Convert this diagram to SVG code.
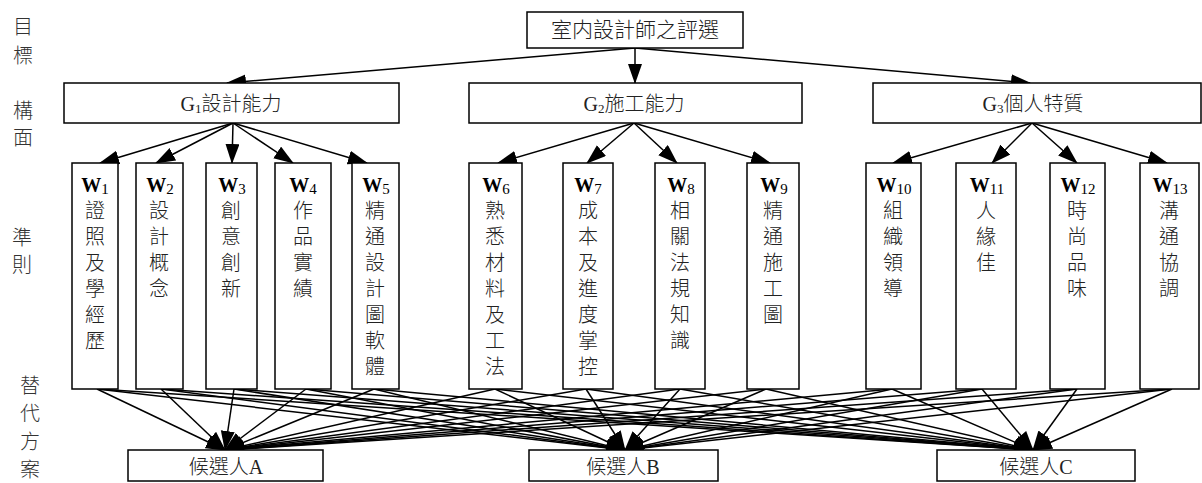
<svg xmlns="http://www.w3.org/2000/svg" width="1202" height="483" viewBox="0 0 1202 483">
<defs>
<style>
.box{fill:#fff;stroke:#000;stroke-width:1.5}
.t{font-family:"Liberation Serif","Noto Sans CJK TC",serif;font-size:20px;font-weight:300;fill:#222;text-anchor:middle}
.w{font-weight:bold;fill:#000}
.sub{font-size:13px;font-weight:normal}
.wsub{font-size:15px;font-weight:normal}
.lbl{font-family:"Noto Sans CJK TC",sans-serif;font-size:20px;font-weight:300;fill:#333;text-anchor:middle}
.c{stroke:#000;stroke-width:1.5;fill:none;marker-end:url(#ah)}
</style>
<marker id="ah" markerUnits="userSpaceOnUse" markerWidth="21" markerHeight="15" refX="19" refY="7" orient="auto">
<path d="M0,0 L20,7 L0,14 z" fill="#000"/>
</marker>
</defs>
<rect width="1202" height="483" fill="#fff"/>

<g id="side-labels">
<text class="lbl" x="23" y="34">目</text>
<text class="lbl" x="23" y="63">標</text>
<text class="lbl" x="23" y="118">構</text>
<text class="lbl" x="23" y="145">面</text>
<text class="lbl" x="22" y="245">準</text>
<text class="lbl" x="22" y="272">則</text>
<text class="lbl" x="30" y="393">替</text>
<text class="lbl" x="30" y="421">代</text>
<text class="lbl" x="30" y="449">方</text>
<text class="lbl" x="30" y="477">案</text>
</g>

<g id="connectors">
<line class="c" x1="635" y1="48" x2="227" y2="83"/>
<line class="c" x1="635" y1="48" x2="635" y2="83"/>
<line class="c" x1="635" y1="48" x2="1030" y2="83"/>

<line class="c" x1="233" y1="123" x2="100" y2="163"/>
<line class="c" x1="233" y1="123" x2="156" y2="163"/>
<line class="c" x1="233" y1="123" x2="232" y2="163"/>
<line class="c" x1="233" y1="123" x2="293" y2="163"/>
<line class="c" x1="233" y1="123" x2="367" y2="163"/>

<line class="c" x1="634" y1="123" x2="498" y2="163"/>
<line class="c" x1="634" y1="123" x2="587" y2="163"/>
<line class="c" x1="634" y1="123" x2="677" y2="163"/>
<line class="c" x1="634" y1="123" x2="770" y2="163"/>

<line class="c" x1="1032" y1="123" x2="893" y2="163"/>
<line class="c" x1="1032" y1="123" x2="992" y2="163"/>
<line class="c" x1="1032" y1="123" x2="1077" y2="163"/>
<line class="c" x1="1032" y1="123" x2="1167" y2="163"/>

<g id="to-A">
<line class="c" x1="97" y1="389" x2="225" y2="450"/>
<line class="c" x1="161" y1="389" x2="225" y2="450"/>
<line class="c" x1="234" y1="389" x2="225" y2="450"/>
<line class="c" x1="306" y1="389" x2="225" y2="450"/>
<line class="c" x1="374" y1="389" x2="225" y2="450"/>
<line class="c" x1="495" y1="389" x2="225" y2="450"/>
<line class="c" x1="586" y1="389" x2="225" y2="450"/>
<line class="c" x1="680" y1="389" x2="225" y2="450"/>
<line class="c" x1="766" y1="389" x2="225" y2="450"/>
<line class="c" x1="892" y1="389" x2="225" y2="450"/>
<line class="c" x1="982" y1="389" x2="225" y2="450"/>
<line class="c" x1="1077" y1="389" x2="225" y2="450"/>
<line class="c" x1="1172" y1="389" x2="225" y2="450"/>
</g>
<g id="to-B">
<line class="c" x1="97" y1="389" x2="625" y2="450"/>
<line class="c" x1="161" y1="389" x2="625" y2="450"/>
<line class="c" x1="234" y1="389" x2="625" y2="450"/>
<line class="c" x1="306" y1="389" x2="625" y2="450"/>
<line class="c" x1="374" y1="389" x2="625" y2="450"/>
<line class="c" x1="495" y1="389" x2="625" y2="450"/>
<line class="c" x1="586" y1="389" x2="625" y2="450"/>
<line class="c" x1="680" y1="389" x2="625" y2="450"/>
<line class="c" x1="766" y1="389" x2="625" y2="450"/>
<line class="c" x1="892" y1="389" x2="625" y2="450"/>
<line class="c" x1="982" y1="389" x2="625" y2="450"/>
<line class="c" x1="1077" y1="389" x2="625" y2="450"/>
<line class="c" x1="1172" y1="389" x2="625" y2="450"/>
</g>
<g id="to-C">
<line class="c" x1="97" y1="389" x2="1033" y2="450"/>
<line class="c" x1="161" y1="389" x2="1033" y2="450"/>
<line class="c" x1="234" y1="389" x2="1033" y2="450"/>
<line class="c" x1="306" y1="389" x2="1033" y2="450"/>
<line class="c" x1="374" y1="389" x2="1033" y2="450"/>
<line class="c" x1="495" y1="389" x2="1033" y2="450"/>
<line class="c" x1="586" y1="389" x2="1033" y2="450"/>
<line class="c" x1="680" y1="389" x2="1033" y2="450"/>
<line class="c" x1="766" y1="389" x2="1033" y2="450"/>
<line class="c" x1="892" y1="389" x2="1033" y2="450"/>
<line class="c" x1="982" y1="389" x2="1033" y2="450"/>
<line class="c" x1="1077" y1="389" x2="1033" y2="450"/>
<line class="c" x1="1172" y1="389" x2="1033" y2="450"/>
</g>
</g>

<g id="goal">
<rect class="box" x="527" y="12" width="216" height="36"/>
<text class="t" x="635" y="37" style="font-size:21px">室内設計師之評選</text>
</g>

<g id="G1">
<rect class="box" x="64" y="83" width="335" height="40"/>
<text class="t" x="231" y="111">G<tspan class="sub" dy="2">1</tspan><tspan dy="-2">設計能力</tspan></text>
</g>
<g id="G2">
<rect class="box" x="469" y="83" width="333" height="40"/>
<text class="t" x="634" y="111">G<tspan class="sub" dy="2">2</tspan><tspan dy="-2">施工能力</tspan></text>
</g>
<g id="G3">
<rect class="box" x="873" y="83" width="328" height="40"/>
<text class="t" x="1033" y="111">G<tspan class="sub" dy="2">3</tspan><tspan dy="-2">個人特質</tspan></text>
</g>

<g id="W1">
<rect class="box" x="72" y="163" width="46" height="226"/>
<text class="t w" x="95" y="192">W<tspan class="wsub" dy="2">1</tspan></text>
<text class="t"><tspan x="95" y="218">證</tspan><tspan x="95" y="244">照</tspan><tspan x="95" y="270">及</tspan><tspan x="95" y="296">學</tspan><tspan x="95" y="322">經</tspan><tspan x="95" y="348">歷</tspan></text>
</g>
<g id="W2">
<rect class="box" x="136" y="163" width="47" height="226"/>
<text class="t w" x="160" y="192">W<tspan class="wsub" dy="2">2</tspan></text>
<text class="t"><tspan x="159" y="218">設</tspan><tspan x="159" y="244">計</tspan><tspan x="159" y="270">概</tspan><tspan x="159" y="296">念</tspan></text>
</g>
<g id="W3">
<rect class="box" x="206" y="163" width="51" height="226"/>
<text class="t w" x="232" y="192">W<tspan class="wsub" dy="2">3</tspan></text>
<text class="t"><tspan x="231" y="218">創</tspan><tspan x="231" y="244">意</tspan><tspan x="231" y="270">創</tspan><tspan x="231" y="296">新</tspan></text>
</g>
<g id="W4">
<rect class="box" x="275" y="163" width="56" height="226"/>
<text class="t w" x="303" y="192">W<tspan class="wsub" dy="2">4</tspan></text>
<text class="t"><tspan x="303" y="218">作</tspan><tspan x="303" y="244">品</tspan><tspan x="303" y="270">實</tspan><tspan x="303" y="296">績</tspan></text>
</g>
<g id="W5">
<rect class="box" x="352" y="163" width="47" height="226"/>
<text class="t w" x="376" y="192">W<tspan class="wsub" dy="2">5</tspan></text>
<text class="t"><tspan x="375" y="218">精</tspan><tspan x="375" y="244">通</tspan><tspan x="375" y="270">設</tspan><tspan x="375" y="296">計</tspan><tspan x="375" y="322">圖</tspan><tspan x="375" y="348">軟</tspan><tspan x="375" y="374">體</tspan></text>
</g>
<g id="W6">
<rect class="box" x="469" y="163" width="53" height="226"/>
<text class="t w" x="496" y="192">W<tspan class="wsub" dy="2">6</tspan></text>
<text class="t"><tspan x="495" y="218">熟</tspan><tspan x="495" y="244">悉</tspan><tspan x="495" y="270">材</tspan><tspan x="495" y="296">料</tspan><tspan x="495" y="322">及</tspan><tspan x="495" y="348">工</tspan><tspan x="495" y="374">法</tspan></text>
</g>
<g id="W7">
<rect class="box" x="563" y="163" width="50" height="226"/>
<text class="t w" x="588" y="192">W<tspan class="wsub" dy="2">7</tspan></text>
<text class="t"><tspan x="588" y="218">成</tspan><tspan x="588" y="244">本</tspan><tspan x="588" y="270">及</tspan><tspan x="588" y="296">進</tspan><tspan x="588" y="322">度</tspan><tspan x="588" y="348">掌</tspan><tspan x="588" y="374">控</tspan></text>
</g>
<g id="W8">
<rect class="box" x="655" y="163" width="50" height="226"/>
<text class="t w" x="681" y="192">W<tspan class="wsub" dy="2">8</tspan></text>
<text class="t"><tspan x="680" y="218">相</tspan><tspan x="680" y="244">關</tspan><tspan x="680" y="270">法</tspan><tspan x="680" y="296">規</tspan><tspan x="680" y="322">知</tspan><tspan x="680" y="348">識</tspan></text>
</g>
<g id="W9">
<rect class="box" x="747" y="163" width="52" height="226"/>
<text class="t w" x="774" y="192">W<tspan class="wsub" dy="2">9</tspan></text>
<text class="t"><tspan x="773" y="218">精</tspan><tspan x="773" y="244">通</tspan><tspan x="773" y="270">施</tspan><tspan x="773" y="296">工</tspan><tspan x="773" y="322">圖</tspan></text>
</g>
<g id="W10">
<rect class="box" x="866" y="163" width="55" height="226"/>
<text class="t w" x="894" y="192">W<tspan class="wsub" dy="2">10</tspan></text>
<text class="t"><tspan x="893" y="218">組</tspan><tspan x="893" y="244">織</tspan><tspan x="893" y="270">領</tspan><tspan x="893" y="296">導</tspan></text>
</g>
<g id="W11">
<rect class="box" x="956" y="163" width="60" height="226"/>
<text class="t w" x="987" y="192">W<tspan class="wsub" dy="2">11</tspan></text>
<text class="t"><tspan x="986" y="218">人</tspan><tspan x="986" y="244">緣</tspan><tspan x="986" y="270">佳</tspan></text>
</g>
<g id="W12">
<rect class="box" x="1050" y="163" width="55" height="226"/>
<text class="t w" x="1078" y="192">W<tspan class="wsub" dy="2">12</tspan></text>
<text class="t"><tspan x="1077" y="218">時</tspan><tspan x="1077" y="244">尚</tspan><tspan x="1077" y="270">品</tspan><tspan x="1077" y="296">味</tspan></text>
</g>
<g id="W13">
<rect class="box" x="1140" y="163" width="59" height="226"/>
<text class="t w" x="1170" y="192">W<tspan class="wsub" dy="2">13</tspan></text>
<text class="t"><tspan x="1169" y="218">溝</tspan><tspan x="1169" y="244">通</tspan><tspan x="1169" y="270">協</tspan><tspan x="1169" y="296">調</tspan></text>
</g>

<g id="candA">
<rect class="box" x="128" y="450" width="195" height="31"/>
<text class="t" x="226" y="474">候選人A</text>
</g>
<g id="candB">
<rect class="box" x="529" y="450" width="189" height="31"/>
<text class="t" x="623" y="474">候選人B</text>
</g>
<g id="candC">
<rect class="box" x="937" y="450" width="198" height="31"/>
<text class="t" x="1036" y="474">候選人C</text>
</g>
</svg>
